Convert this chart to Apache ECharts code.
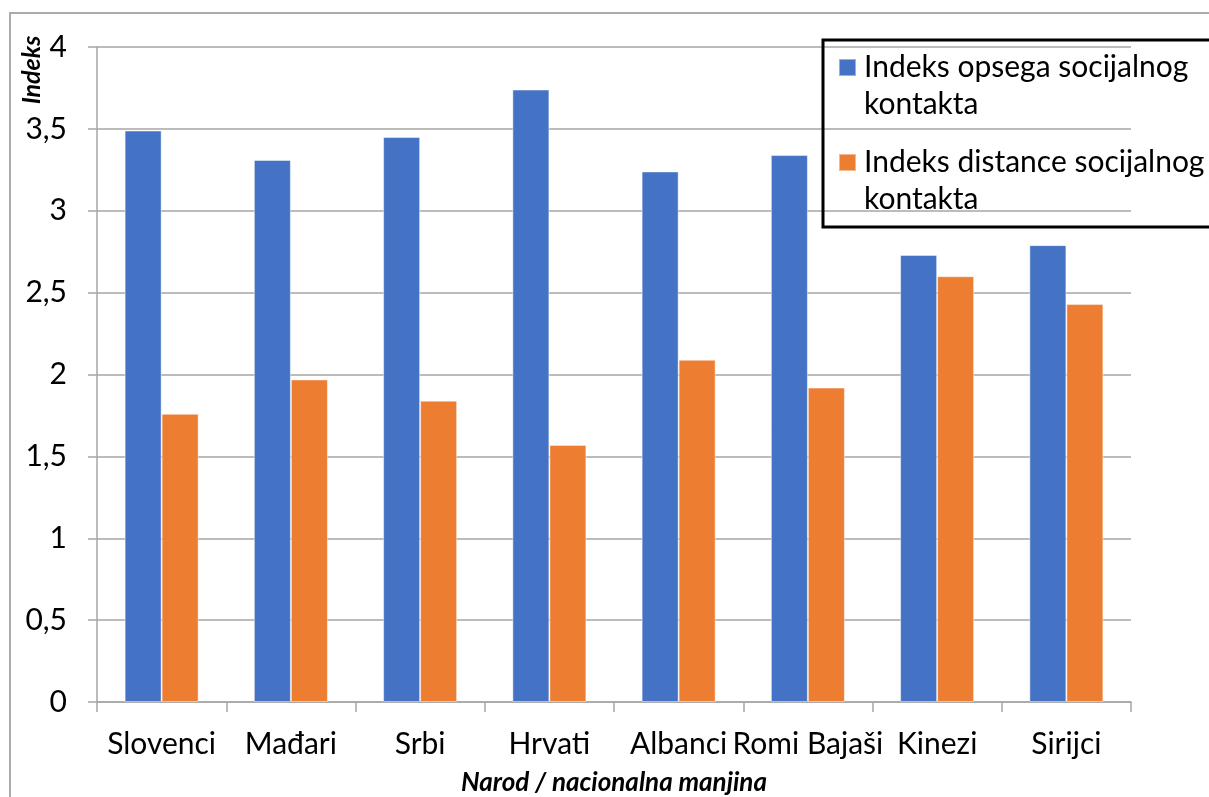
<!DOCTYPE html>
<html>
<head>
<meta charset="utf-8">
<title>Indeks</title>
<script src="https://cdn.jsdelivr.net/npm/echarts@6/dist/echarts.min.js"></script>
<style>
  html, body { margin: 0; padding: 0; background: #fff; }
  #chart { width: 1209px; height: 797px; }
</style>
</head>
<body>
<div id="chart"></div>
<script>
var categories = ['Slovenci', 'Mađari', 'Srbi', 'Hrvati', 'Albanci', 'Romi Bajaši', 'Kinezi', 'Sirijci'];
var opsegValues = [3.49, 3.31, 3.45, 3.74, 3.24, 3.34, 2.73, 2.79];
var distanceValues = [1.76, 1.97, 1.84, 1.57, 2.09, 1.92, 2.60, 2.43];
var seriesNames = ['Indeks opsega socijalnog\nkontakta', 'Indeks distance socijalnog\nkontakta'];

var FONT = 'Lato, "Open Sans", sans-serif';
// marker kept at the first text line: tiny dot stretches the icon box downwards
var legendIcon = 'path://M0,0h10v10h-10zM0,31.7h0.01v0.01h-0.01z';

function init_chart() {
    var myChart = echarts.init(document.getElementById('chart'));

    var option = {
        animation: false,
        textStyle: { fontFamily: FONT },
        grid: { left: 97, right: 78, top: 47, bottom: 95, outerBoundsMode: 'none' },
        graphic: [
            {
                type: 'rect',
                shape: { x: 10, y: 13, width: 1300, height: 900 },
                style: { fill: null, stroke: '#ababab', lineWidth: 2 }
            },
            {
                type: 'rect',
                shape: { x: 823, y: 40, width: 500, height: 187 },
                style: { fill: null, stroke: '#000', lineWidth: 3 },
                z: 10
            },
            {
                type: 'text',
                x: 32,
                y: 70,
                rotation: Math.PI / 2,
                style: {
                    text: 'Indeks',
                    fill: '#000',
                    font: 'italic bold 25px ' + FONT,
                    textAlign: 'center',
                    textVerticalAlign: 'middle'
                }
            }
        ],
        legend: {
            orient: 'vertical',
            left: 838,
            top: 49,
            padding: 0,
            itemWidth: 17,
            itemHeight: 54,
            itemGap: 21,
            icon: legendIcon,
            textStyle: { fontSize: 30, lineHeight: 37, color: '#000', fontFamily: FONT, padding: [0, 0, 0, 3] },
            data: seriesNames
        },
        xAxis: {
            type: 'category',
            data: categories,
            name: 'Narod / nacionalna manjina',
            nameLocation: 'middle',
            nameGap: 68,
            nameTextStyle: { fontSize: 26, fontWeight: 'bold', fontStyle: 'italic', color: '#000' },
            axisLine: { lineStyle: { color: '#a6a6a6', width: 1.5 } },
            axisTick: { show: true, length: 10, alignWithLabel: false, lineStyle: { color: '#a6a6a6', width: 1.5 } },
            axisLabel: { fontSize: 30, color: '#000', margin: 27, interval: 0 }
        },
        yAxis: {
            type: 'value',
            min: 0,
            max: 4,
            interval: 0.5,
            axisLine: { show: true, lineStyle: { color: '#a6a6a6', width: 1.5 } },
            axisTick: { show: true, length: 9, lineStyle: { color: '#a6a6a6', width: 1.5 } },
            splitLine: { lineStyle: { color: '#a6a6a6', width: 1.5 } },
            axisLabel: {
                fontSize: 30,
                color: '#000',
                margin: 30,
                formatter: function(v) { return String(v).replace('.', ','); }
            }
        },
        series: [
            {
                name: seriesNames[0],
                type: 'bar',
                data: opsegValues,
                barWidth: 37,
                barGap: '0%',
                itemStyle: { color: '#4472C4', borderColor: 'rgba(255,255,255,0.45)', borderWidth: 1 }
            },
            {
                name: seriesNames[1],
                type: 'bar',
                data: distanceValues,
                barWidth: 37,
                itemStyle: { color: '#ED7D31', borderColor: 'rgba(255,255,255,0.45)', borderWidth: 1 }
            }
        ]
    };

    myChart.setOption(option);
}

init_chart();
</script>
</body>
</html>
